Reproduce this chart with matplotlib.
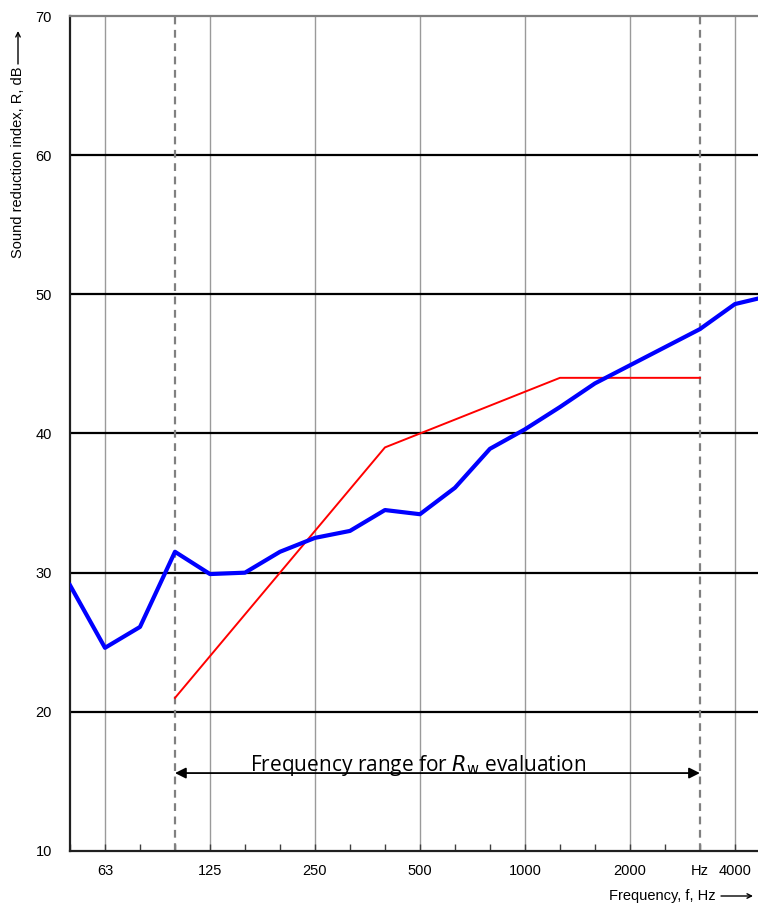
import numpy as np
import matplotlib
matplotlib.use("Agg")
import matplotlib.pyplot as plt

plt.rcParams['font.family'] = ['Liberation Sans', 'DejaVu Sans']

# one-third octave band centre frequencies, Hz
bands = [50, 63, 80, 100, 125, 160, 200, 250, 315, 400, 500,
         630, 800, 1000, 1250, 1600, 2000, 2500, 3150, 4000, 5000]
# measured sound reduction index, dB
r_meas = [29.1, 24.6, 26.1, 31.5, 29.9, 30.0, 31.5, 32.5, 33.0, 34.5, 34.2,
          36.1, 38.9, 40.3, 41.9, 43.6, 44.9, 46.2, 47.5, 49.3, 49.9]
# shifted reference curve (100 Hz .. 3150 Hz)
ref_bands = [100, 125, 160, 200, 250, 315, 400, 500,
             630, 800, 1000, 1250, 1600, 2000, 2500, 3150]
r_ref = [21, 24, 27, 30, 33, 36, 39, 40, 41, 42, 43, 44, 44, 44, 44, 44]

tick_bands = [63, 125, 250, 500, 1000, 2000, 3150, 4000]
tick_labels = ['63', '125', '250', '500', '1000', '2000', 'Hz', '4000']
y_ticks = [10, 20, 30, 40, 50, 60, 70]

pos = {f: i for i, f in enumerate(bands)}
x_meas = np.array([pos[f] for f in bands])
x_ref = np.array([pos[f] for f in ref_bands])

W, H = 758, 905
fig = plt.figure(figsize=(W / 100, H / 100), dpi=100)
ax = fig.add_axes([70 / W, 1 - 851 / H, 688 / W, 835 / H])

# octave grid lines
for f in [63, 125, 250, 500, 1000, 2000, 4000]:
    ax.axvline(pos[f], color='#9a9a9a', lw=1.0, zorder=1)
for y in [20, 30, 40, 50, 60]:
    ax.axhline(y, color='black', lw=1.6, zorder=1)
# evaluation range limits
for f in [100, 3150]:
    ax.axvline(pos[f], color='#808080', lw=1.6, ls=(0, (3.5, 2.5)), zorder=2)

ax.plot(x_ref, r_ref, color='#ff0000', lw=1.4, zorder=3)
ax.plot(x_meas, r_meas, color='#0000ff', lw=3.0, zorder=4)

ax.annotate('', xy=(pos[100], 15.6), xytext=(pos[3150], 15.6),
            arrowprops=dict(arrowstyle='<|-|>', color='black', lw=1.3,
                            mutation_scale=16, shrinkA=0, shrinkB=0))
ax.text(9.95, 15.75, 'Frequency range for $R_{\\mathrm{w}}$ evaluation',
        ha='center', va='baseline', fontsize=15,
        family=['Open Sans', 'DejaVu Sans'])

ax.set_xticks(np.arange(len(bands)), minor=True)
ax.set_xticks([pos[f] for f in tick_bands])
ax.set_xticklabels(tick_labels, fontsize=10.5)
ax.tick_params(axis='x', which='both', direction='in', length=5,
               width=1, color='#404040', pad=9, top=False)
ax.set_yticks(y_ticks)
ax.set_yticklabels([str(v) for v in y_ticks], fontsize=10.5)
ax.tick_params(axis='y', length=0, pad=13)
# limits after the ticks, otherwise set_xticks widens the view
ax.set_xlim(0, 19.66)
ax.set_ylim(10, 70)

for side in ['left', 'bottom']:
    ax.spines[side].set_color('#202020')
    ax.spines[side].set_linewidth(1.6)
ax.spines['top'].set_color('#808080')
ax.spines['top'].set_linewidth(1.6)
ax.spines['right'].set_visible(False)

# axis titles with long arrows
fig.text(18 / W, 1 - 258 / H, 'Sound reduction index, R, dB',
         rotation=90, ha='center', va='bottom', fontsize=10.5)
fig.add_artist(plt.Annotation('', xy=(18 / W, 1 - 31 / H), xytext=(18 / W, 1 - 64 / H),
                              xycoords='figure fraction',
                              arrowprops=dict(arrowstyle='->', color='black', lw=1.0,
                                              mutation_scale=8, shrinkA=0, shrinkB=0)))
fig.text(716 / W, 1 - 900 / H, 'Frequency, f, Hz',
         ha='right', va='baseline', fontsize=10.5)
fig.add_artist(plt.Annotation('', xy=(753 / W, 1 - 896 / H), xytext=(721 / W, 1 - 896 / H),
                              xycoords='figure fraction',
                              arrowprops=dict(arrowstyle='->', color='black', lw=1.0,
                                              mutation_scale=8, shrinkA=0, shrinkB=0)))

fig.savefig('out.png', dpi=100)
